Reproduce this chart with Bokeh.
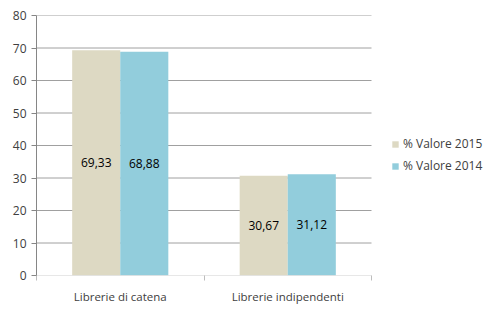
import numpy as np
from bokeh.plotting import figure
from bokeh.models import ColumnDataSource, FixedTicker, Legend, LegendItem, Range1d, LabelSet
from bokeh.core.properties import value
from bokeh.embed import file_html
from bokeh.resources import INLINE

categories = ["Librerie di catena", "Librerie indipendenti"]
v2015 = [69.33, 30.67]
v2014 = [68.88, 31.12]
series_names = ["% Valore 2015", "% Valore 2014"]
y_ticks = [0, 10, 20, 30, 40, 50, 60, 70, 80]

def fmt(v):
    return f"{v:.2f}".replace(".", ",")

n = len(categories)
centers = np.arange(n) + 0.5
bw = 0.287

W, H = 500, 311
left, top, bottom = 36, 15, 36
plot_px = 335  # pixel width of the category area
frame_px = W - left
x_end = n * frame_px / plot_px

src15 = ColumnDataSource(dict(x=centers - bw / 2, top=v2015, mid=[v / 2 for v in v2015], lab=[fmt(v) for v in v2015]))
src14 = ColumnDataSource(dict(x=centers + bw / 2, top=v2014, mid=[v / 2 for v in v2014], lab=[fmt(v) for v in v2014]))

p = figure(width=W, height=H, output_backend="svg", toolbar_location=None,
           x_range=Range1d(0, x_end), y_range=Range1d(0, 80),
           min_border_left=left, min_border_right=0, min_border_top=top, min_border_bottom=bottom)
p.outline_line_color = None
p.background_fill_color = "white"
p.border_fill_color = "white"
p.xgrid.visible = False
p.ygrid.visible = False

# gridlines limited to the category area
gy = [t for t in y_ticks if t > 0]
p.segment(x0=[0] * len(gy), x1=[n] * len(gy), y0=gy, y1=gy, line_color="#a0a0a0", line_width=1)

r15 = p.vbar(x="x", top="top", width=bw, source=src15, fill_color="#DDD9C3", line_color=None)
r14 = p.vbar(x="x", top="top", width=bw, source=src14, fill_color="#92CDDC", line_color=None)

# baseline
p.segment(x0=[0], x1=[n], y0=[0], y1=[0], line_color="#d0d0d0", line_width=1)

for s in (src15, src14):
    p.add_layout(LabelSet(x="x", y="mid", text="lab", source=s, text_align="center", text_baseline="middle",
                          text_font=value("Open Sans"), text_font_size="12px", text_color="#000000"))

p.yaxis.ticker = FixedTicker(ticks=y_ticks)
p.yaxis.axis_line_color = "#868686"
p.yaxis.major_tick_line_color = "#868686"
p.yaxis.major_tick_out = 5
p.yaxis.major_tick_in = 0
p.yaxis.minor_tick_line_color = None
p.yaxis.major_label_text_font = "Open Sans"
p.yaxis.major_label_text_font_size = "12px"
p.yaxis.major_label_text_color = "#404040"
p.yaxis.major_label_standoff = 5

p.xaxis.ticker = FixedTicker(ticks=list(centers), minor_ticks=list(range(n + 1)))
p.xaxis.major_label_overrides = {float(c): name for c, name in zip(centers, categories)}
p.xaxis.major_tick_line_color = None
p.xaxis.minor_tick_line_color = "#bdbdbd"
p.xaxis.minor_tick_out = 5
p.xaxis.minor_tick_in = 0
p.xaxis.axis_line_color = None
p.xaxis.major_label_text_font = "Open Sans"
p.xaxis.major_label_text_font_size = "11.5px"
p.xaxis.major_label_text_color = "#404040"
p.xaxis.major_label_standoff = 7

legend = Legend(items=[LegendItem(label=series_names[0], renderers=[r15]),
                       LegendItem(label=series_names[1], renderers=[r14])],
                location=(355, 101), orientation="vertical",
                label_text_font="Open Sans", label_text_font_size="12px", label_text_color="#404040",
                glyph_width=8, glyph_height=8, spacing=5, label_standoff=4,
                background_fill_alpha=0, border_line_color=None, padding=0, margin=0)
p.add_layout(legend)

open("out.html", "w").write(file_html(p, INLINE))
